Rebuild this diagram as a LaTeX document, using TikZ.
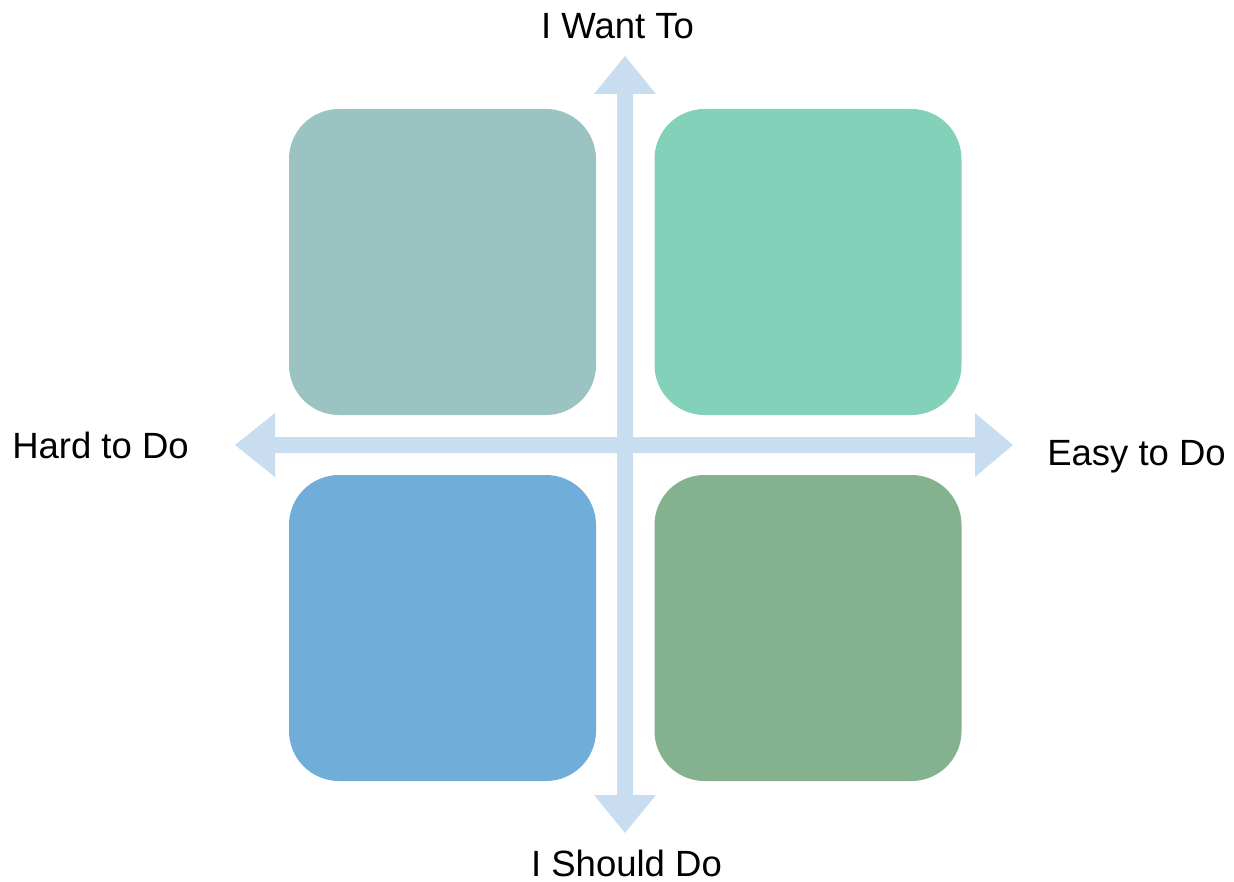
\documentclass[tikz,border=0pt]{standalone}
\usepackage{fontspec}
\setmainfont{Liberation Sans}
\definecolor{axiscol}{HTML}{C9DDF1}
\definecolor{tlcol}{HTML}{9BC3C1}
\definecolor{trcol}{HTML}{84D1BA}
\definecolor{blcol}{HTML}{71ADD9}
\definecolor{brcol}{HTML}{84B18E}
\begin{document}
\begin{tikzpicture}[x=1pt,y=-1pt,
  quad/.style={draw=none,inner sep=0pt,minimum width=307pt,minimum height=306pt,rounded corners=50pt},
  axislabel/.style={anchor=base,inner sep=0pt,font=\fontsize{36.5}{44}\selectfont}]
\useasboundingbox (0,0) rectangle (1234,882);
% quadrants
\node[quad,fill=tlcol] (tl) at (442.5,262) {};
\node[quad,fill=trcol] (tr) at (808,262) {};
\node[quad,fill=blcol] (bl) at (442.5,628) {};
\node[quad,fill=brcol] (br) at (808,628) {};
% axes
\fill[axiscol] (617,94) -- (594,94) -- (625,56) -- (656,94) -- (633,94) -- (633,795) -- (656,795) -- (625,833) -- (594,795) -- (617,795) -- cycle;
\fill[axiscol] (275,437) -- (275,413) -- (235,445) -- (275,477) -- (275,453) -- (975,453) -- (975,477) -- (1013,445) -- (975,413) -- (975,437) -- cycle;
% labels
\node[axislabel] (want) at (617.5,39) {I Want To};
\node[axislabel] (hard) at (100.5,458) {Hard to Do};
\node[axislabel] (easy) at (1136.5,465) {Easy to Do};
\node[axislabel] (should) at (626.5,876) {I Should Do};
\end{tikzpicture}
\end{document}
